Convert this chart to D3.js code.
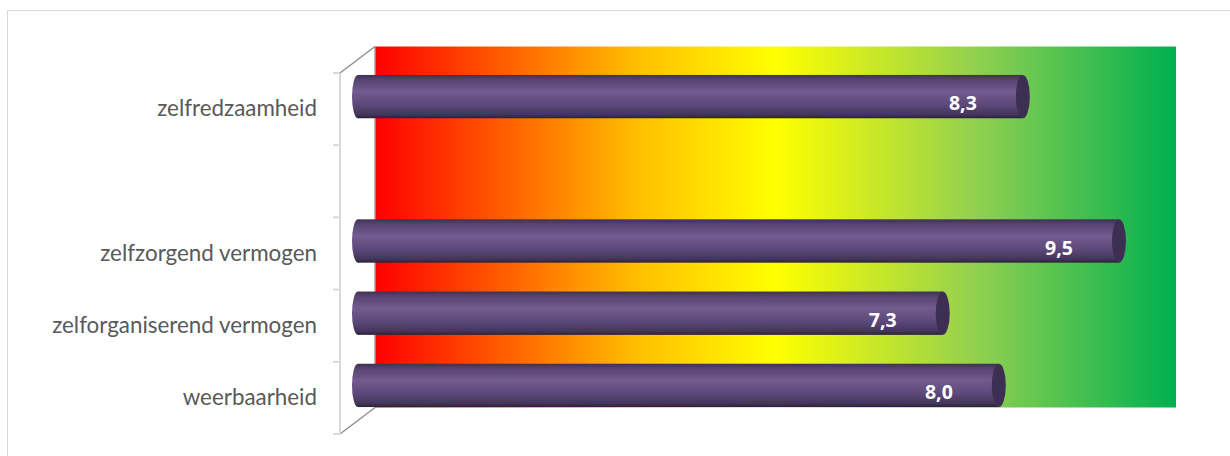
<!DOCTYPE html>
<html>
<head>
<meta charset="utf-8">
<script src="https://cdn.jsdelivr.net/npm/d3@7"></script>
<style>
  html, body { margin: 0; padding: 0; background: #fff; }
  svg { display: block; }
</style>
</head>
<body>
<svg id="chart" width="1230" height="456"></svg>
<script>
// ---- data ----
const categories = ["zelfredzaamheid", "", "zelfzorgend vermogen", "zelforganiserend vermogen", "weerbaarheid"];
const values = [8.3, null, 9.5, 7.3, 8.0];
const xDomain = [0, 10];

// ---- layout ----
const W = 1230, H = 456;
const front = { left: 340, right: 1141, top: 73, bottom: 434 };
const depth = { dx: 35, dy: -26.5 };
const mid = { dx: 18, dy: -12.5 };

const svg = d3.select("#chart");
const defs = svg.append("defs");

// outer chart border
svg.append("rect")
  .attr("x", 7.5).attr("y", 10.5)
  .attr("width", W).attr("height", H)
  .attr("fill", "none").attr("stroke", "#d9d9d9").attr("stroke-width", 1);

const x = d3.scaleLinear().domain(xDomain).range([front.left, front.right]);
const y = d3.scaleBand().domain(categories.map((c, i) => i)).range([front.top, front.bottom]).padding(0);

// background gradient on back wall
const bg = defs.append("linearGradient").attr("id", "bgGrad")
  .attr("x1", "0%").attr("x2", "100%").attr("y1", "0%").attr("y2", "0%");
[[0, "#ff0000"], [0.33, "#ffc000"], [0.5, "#ffff00"], [0.75, "#92d050"], [1, "#00b050"]]
  .forEach(([o, c]) => bg.append("stop").attr("offset", o).attr("stop-color", c));

svg.append("rect")
  .attr("x", x(xDomain[0]) + depth.dx)
  .attr("y", front.top + depth.dy)
  .attr("width", x(xDomain[1]) - x(xDomain[0]))
  .attr("height", front.bottom - front.top)
  .attr("fill", "url(#bgGrad)");

// side wall edges
const edge = svg.append("g").attr("stroke", "#8f8f8f").attr("stroke-width", 1.5).attr("fill", "none");
edge.append("line")
  .attr("x1", front.left + depth.dx).attr("x2", front.left + depth.dx)
  .attr("y1", front.top + depth.dy).attr("y2", front.bottom + depth.dy)
  .attr("stroke", "#a0a0a0");
edge.append("line")
  .attr("x1", front.left).attr("y1", front.top)
  .attr("x2", front.left + depth.dx).attr("y2", front.top + depth.dy);
edge.append("line")
  .attr("x1", front.left).attr("y1", front.bottom)
  .attr("x2", front.left + depth.dx).attr("y2", front.bottom + depth.dy);

// front axis line + ticks at band boundaries
const axisG = svg.append("g").attr("stroke", "#d9d9d9").attr("stroke-width", 2);
axisG.append("line")
  .attr("x1", front.left).attr("x2", front.left)
  .attr("y1", front.top).attr("y2", front.bottom);
const boundaries = categories.map((c, i) => y(i)).concat([y(categories.length - 1) + y.bandwidth()]);
axisG.selectAll("line.tick").data(boundaries).join("line")
  .attr("class", "tick")
  .attr("x1", front.left - 7).attr("x2", front.left)
  .attr("y1", d => d).attr("y2", d => d);

// category labels via d3 axis
const yLab = d3.scaleBand().domain(categories).range([front.top, front.bottom]).padding(0);
const labG = svg.append("g")
  .attr("transform", `translate(${front.left},0)`)
  .call(d3.axisLeft(yLab).tickSize(0).tickPadding(23));
labG.select(".domain").remove();
labG.selectAll("text")
  .attr("fill", "#595959")
  .style("font-family", "Lato, 'Open Sans', sans-serif")
  .style("font-size", "22px");
// fit the longest label width to reference
let maxW = 0;
labG.selectAll("text").each(function () { maxW = Math.max(maxW, this.getComputedTextLength()); });
if (maxW > 0) {
  const fs = 22 * 265 / maxW;
  labG.selectAll("text").style("font-size", fs + "px");
}

// bar gradients
const bodyGrad = defs.append("linearGradient").attr("id", "barGrad")
  .attr("x1", "0%").attr("x2", "0%").attr("y1", "0%").attr("y2", "100%");
[[0, "#3e3052"], [0.1, "#54436f"], [0.38, "#735b90"], [0.7, "#5b4878"], [0.92, "#43355a"], [1, "#2b2038"]]
  .forEach(([o, c]) => bodyGrad.append("stop").attr("offset", o).attr("stop-color", c));

const barH = y.bandwidth() * 0.6;
const rx = 7;
const fmt = d3.formatLocale({ decimal: ",", thousands: ".", grouping: [3], currency: ["€", ""] }).format(".1f");

const barsData = categories.map((c, i) => ({ c, i, v: values[i] })).filter(d => d.v != null);

const bars = svg.append("g").selectAll("g.bar").data(barsData).join("g").attr("class", "bar");

bars.each(function (d) {
  const g = d3.select(this);
  const cy = y(d.i) + y.bandwidth() / 2 + mid.dy;
  const x0 = x(0) + mid.dx;
  const x1 = x(d.v) + mid.dx;
  // left end (rounded)
  g.append("ellipse")
    .attr("cx", x0).attr("cy", cy).attr("rx", rx - 1).attr("ry", barH / 2)
    .attr("fill", "url(#barGrad)");
  g.append("rect")
    .attr("x", x0).attr("y", cy - barH / 2)
    .attr("width", x1 - x0).attr("height", barH)
    .attr("fill", "url(#barGrad)");
  // right cap
  g.append("ellipse")
    .attr("cx", x1).attr("cy", cy).attr("rx", rx).attr("ry", barH / 2)
    .attr("fill", "#3d2f54");
  // value label
  g.append("text")
    .attr("x", x1 - 46).attr("y", cy + 6)
    .attr("text-anchor", "end")
    .attr("dominant-baseline", "central")
    .attr("fill", "#ffffff")
    .style("font-family", "'Open Sans', sans-serif")
    .style("font-weight", "bold")
    .style("font-size", "19.5px")
    .text(fmt(d.v));
});
</script>
</body>
</html>
